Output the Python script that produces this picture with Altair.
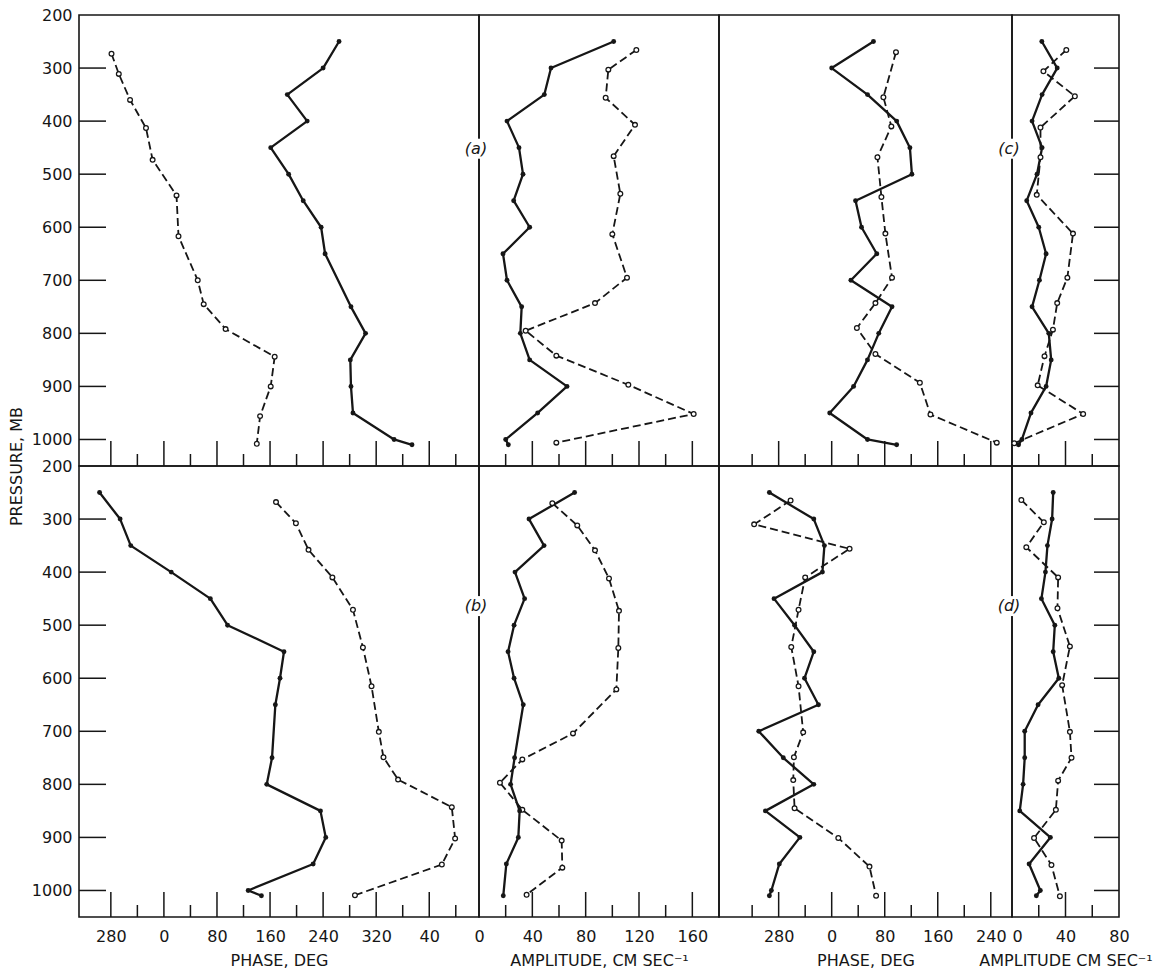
import altair as alt
import pandas as pd

# ---------------- data ----------------
# Pressure levels in mb. Phase values are in degrees written continuously
# (a value above 360 is the next turn, e.g. 400 is drawn as 40 deg).

# (a) phase
a_ph_solid_p = [250, 300, 350, 400, 450, 500, 550, 600, 650, 750, 800, 850, 900, 950, 1000, 1010]
a_ph_solid_v = [624, 600, 546, 576, 521, 548, 570, 597, 603, 642, 664, 641, 642, 645, 707, 734]
a_ph_dash_p = [273, 311, 360, 413, 473, 540, 617, 700, 745, 792, 844, 900, 956, 1008]
a_ph_dash_v = [281, 292, 309, 333, 343, 379, 382, 411, 420, 453, 527, 521, 505, 500]
# (a) amplitude
a_amp_solid_p = [250, 300, 350, 400, 450, 500, 550, 600, 650, 700, 750, 800, 850, 900, 950, 1000, 1010]
a_amp_solid_v = [101, 54, 49, 21, 30, 33, 26, 38, 18, 21, 32, 31, 38, 66, 44, 20, 22]
a_amp_dash_p = [266, 303, 356, 407, 466, 537, 613, 695, 743, 795, 842, 897, 952, 1006]
a_amp_dash_v = [118, 97, 95, 117, 101, 106, 100, 111, 87, 35, 58, 112, 161, 58]
# (c) phase
c_ph_solid_p = [250, 300, 350, 400, 450, 500, 550, 600, 650, 700, 750, 800, 850, 900, 950, 1000, 1010]
c_ph_solid_v = [423, 360, 414, 458, 478, 481, 396, 405, 428, 389, 451, 431, 414, 393, 357, 414, 458]
c_ph_dash_p = [270, 355, 410, 468, 543, 612, 695, 743, 790, 839, 893, 953, 1006]
c_ph_dash_v = [457, 438, 450, 429, 435, 441, 451, 426, 398, 426, 493, 509, 609]
# (c) amplitude
c_amp_solid_p = [250, 300, 350, 400, 450, 500, 550, 600, 650, 700, 750, 800, 850, 900, 950, 1000, 1010]
c_amp_solid_v = [22.3, 33.8, 22.5, 15, 22.5, 18.7, 11, 20, 25.5, 20.5, 15, 27.5, 29.3, 25.5, 14.2, 7.4, 4.9]
c_amp_dash_p = [266, 306, 353, 412, 468, 539, 612, 695, 743, 793, 843, 898, 952, 1007]
c_amp_dash_v = [40.6, 23.5, 47, 21.3, 21.3, 18.5, 45.6, 41.4, 33.8, 30.6, 24.3, 19.2, 53.2, 1.7]

# (b) phase
b_ph_solid_p = [250, 300, 350, 400, 450, 500, 550, 600, 650, 750, 800, 850, 900, 950, 1000, 1010]
b_ph_solid_v = [263, 294, 310, 371, 430, 456, 541, 535, 528, 523, 515, 596, 604, 585, 487, 507]
b_ph_dash_p = [268, 308, 358, 410, 471, 542, 615, 701, 749, 791, 843, 902, 951, 1009]
b_ph_dash_v = [529, 559, 578, 614, 645, 660, 673, 684, 691, 713, 794, 799, 779, 648]
# (b) amplitude
b_amp_solid_p = [250, 300, 350, 400, 450, 500, 550, 600, 650, 750, 800, 850, 900, 950, 1010]
b_amp_solid_v = [71.7, 37.5, 48.8, 27, 34.2, 26.3, 21.8, 26.3, 33.2, 26.7, 23.7, 30.5, 29.5, 20.5, 18.2]
b_amp_dash_p = [270, 312, 359, 412, 473, 543, 621, 704, 753, 797, 848, 906, 957, 1008]
b_amp_dash_v = [55, 73.7, 87, 97.5, 105, 104.5, 103, 70.5, 32.5, 15.7, 32.5, 62, 62.5, 35.7]
# (d) phase
d_ph_solid_p = [250, 300, 350, 400, 450, 500, 550, 600, 650, 700, 750, 800, 850, 900, 950, 1000, 1010]
d_ph_solid_v = [266, 333, 349, 346, 273, 304, 333, 319, 340, 250, 287, 333, 260, 312, 281, 269, 266]
d_ph_dash_p = [265, 310, 356, 410, 471, 541, 615, 702, 749, 792, 845, 901, 955, 1010]
d_ph_dash_v = [298, 243, 387, 320, 310, 299, 310, 317, 303, 302, 304, 370, 417, 427]
# (d) amplitude
d_amp_solid_p = [250, 300, 350, 400, 450, 500, 550, 600, 650, 700, 750, 800, 850, 900, 950, 1000, 1010]
d_amp_solid_v = [30.8, 30, 26.5, 25, 22, 32, 30.8, 35, 19.5, 9.5, 9.5, 8.3, 5.8, 28.7, 12.8, 21.2, 18.2]
d_amp_dash_p = [264, 306, 353, 410, 468, 540, 613, 701, 750, 793, 848, 901, 952, 1011]
d_amp_dash_v = [7, 23.8, 10.7, 34.5, 34, 43.3, 37.5, 43.3, 44.5, 34.5, 32.8, 16.5, 29.5, 35.8]

# axis ticks / labels
pressure_labels = [200, 300, 400, 500, 600, 700, 800, 900, 1000]
pressure_ticks = [300, 400, 500, 600, 700, 800, 900, 1000]
p1_long = [280, 360, 440, 520, 600, 680, 760]
p1_short = [320, 400, 480, 560, 640, 720, 800]
p2_long = [40, 80, 120, 160]
p2_short = [20, 60, 100, 140]
p2_labels = [0, 40, 80, 120, 160]
p3_long = [280, 360, 440, 520, 600]
p3_short = [240, 320, 400, 480, 560]
p4_long = [40]
p4_short = [20, 60]
p4_labels = [0, 40, 80]
tags = ["(a)", "(b)", "(c)", "(d)"]

# ---------------- styling / layout ----------------
INK = "#161616"
FONT = "DejaVu Sans"
H = 451
W1, W2, W3, W4 = 400, 240, 293, 107
P1_DOM = [232, 835]
P2_DOM = [0, 180]
P3_DOM = [190, 632]
P4_DOM = [0, 80]
Y_DOM = [200, 1050]


def x_axis(values, title, phase, zero_left=False):
    kw = dict(values=values, ticks=False, domain=False, grid=False, tickSize=0,
              labelPadding=11, labelFlush=False, labelOverlap=False,
              labelFont=FONT, labelFontSize=16, labelColor=INK,
              title=title, titleFont=FONT, titleFontSize=16,
              titleFontWeight="normal", titleColor=INK, titlePadding=8)
    if phase:
        kw["labelExpr"] = "datum.value % 360"
    else:
        kw["format"] = "d"
    if zero_left:
        kw["labelAlign"] = {"expr": "datum.value == 0 ? 'left' : 'center'"}
    return alt.Axis(**kw)


def y_axis(with_title):
    kw = dict(values=pressure_labels, format="d", ticks=False, domain=False,
              grid=False, tickSize=0, labelPadding=7, labelFlush=False,
              labelOverlap=False, labelFont=FONT, labelFontSize=16, labelColor=INK)
    if with_title:
        kw.update(title="PRESSURE, MB", titleFont=FONT, titleFontSize=16,
                  titleFontWeight="normal", titleColor=INK, titleX=-63,
                  titleY=H, titleAngle=270, titleAlign="center",
                  titleBaseline="middle")
    else:
        kw["title"] = None
    return alt.Axis(**kw)


def panel(width, xdom, sp, sv, dp, dv, long_t, short_t, xax, yax,
          ytick_side=None, tag=None, tag_p=455):
    X = alt.X("v:Q", scale=alt.Scale(domain=xdom, nice=False, zero=False), axis=xax)
    Y = alt.Y("p:Q", scale=alt.Scale(domain=Y_DOM, reverse=True, nice=False, zero=False), axis=yax)
    solid = pd.DataFrame({"p": sp, "v": sv})
    dashed = pd.DataFrame({"p": dp, "v": dv})
    layers = [
        alt.Chart(pd.DataFrame({"v": long_t})).mark_rule(color=INK, strokeWidth=1.5)
        .encode(x=X, y=alt.value(H), y2=alt.value(H - 25)),
        alt.Chart(pd.DataFrame({"v": short_t})).mark_rule(color=INK, strokeWidth=1.5)
        .encode(x=X, y=alt.value(H), y2=alt.value(H - 12)),
    ]
    if ytick_side == "left":
        layers.append(alt.Chart(pd.DataFrame({"p": pressure_ticks})).mark_rule(color=INK, strokeWidth=1.5)
                      .encode(y=Y, x=alt.value(0), x2=alt.value(27)))
    if ytick_side == "right":
        layers.append(alt.Chart(pd.DataFrame({"p": pressure_ticks})).mark_rule(color=INK, strokeWidth=1.5)
                      .encode(y=Y, x=alt.value(width - 25), x2=alt.value(width)))
    layers += [
        alt.Chart(dashed).mark_line(color=INK, strokeWidth=1.8, strokeDash=[8, 4])
        .encode(x=X, y=Y, order="p:Q"),
        alt.Chart(solid).mark_line(color=INK, strokeWidth=2.3, strokeJoin="round")
        .encode(x=X, y=Y, order="p:Q"),
        alt.Chart(dashed).mark_point(shape="circle", filled=True, fill="white", stroke=INK,
                                     strokeWidth=1.3, size=22, opacity=1)
        .encode(x=X, y=Y),
        alt.Chart(solid).mark_point(shape="circle", filled=True, color=INK, size=24, opacity=1)
        .encode(x=X, y=Y),
    ]
    if tag is not None:
        tdf = pd.DataFrame({"v": [0], "p": [tag_p], "t": [tag]})
        layers.append(alt.Chart(tdf).mark_rect(color="white", xOffset=-16, x2Offset=10,
                                               yOffset=-10, y2Offset=10)
                      .encode(x=X, x2=alt.X2("v"), y=Y, y2=alt.Y2("p")))
        layers.append(alt.Chart(tdf).mark_text(font=FONT, fontSize=16, fontStyle="italic",
                                               color=INK, dx=-3, align="center",
                                               baseline="middle")
                      .encode(x=X, y=Y, text="t:N"))
    return alt.layer(*layers).properties(width=width, height=H)


panels = [
    # top row
    panel(W1, P1_DOM, a_ph_solid_p, a_ph_solid_v, a_ph_dash_p, a_ph_dash_v,
          p1_long, p1_short, None, y_axis(True), ytick_side="left"),
    panel(W2, P2_DOM, a_amp_solid_p, a_amp_solid_v, a_amp_dash_p, a_amp_dash_v,
          p2_long, p2_short, None, None, tag=tags[0], tag_p=452),
    panel(W3, P3_DOM, c_ph_solid_p, c_ph_solid_v, c_ph_dash_p, c_ph_dash_v,
          p3_long, p3_short, None, None),
    panel(W4, P4_DOM, c_amp_solid_p, c_amp_solid_v, c_amp_dash_p, c_amp_dash_v,
          p4_long, p4_short, None, None, ytick_side="right", tag=tags[2], tag_p=452),
    # bottom row
    panel(W1, P1_DOM, b_ph_solid_p, b_ph_solid_v, b_ph_dash_p, b_ph_dash_v,
          p1_long, p1_short, x_axis(p1_long, "PHASE, DEG", True), y_axis(False),
          ytick_side="left"),
    panel(W2, P2_DOM, b_amp_solid_p, b_amp_solid_v, b_amp_dash_p, b_amp_dash_v,
          p2_long, p2_short, x_axis(p2_labels, "AMPLITUDE, CM SEC⁻¹", False), None,
          tag=tags[1], tag_p=464),
    panel(W3, P3_DOM, d_ph_solid_p, d_ph_solid_v, d_ph_dash_p, d_ph_dash_v,
          p3_long, p3_short, x_axis(p3_long, "PHASE, DEG", True), None),
    panel(W4, P4_DOM, d_amp_solid_p, d_amp_solid_v, d_amp_dash_p, d_amp_dash_v,
          p4_long, p4_short, x_axis(p4_labels, "AMPLITUDE CM SEC⁻¹", False, zero_left=True), None,
          ytick_side="right", tag=tags[3], tag_p=464),
]

chart = (
    alt.concat(*panels, columns=4, spacing=0, bounds="flush")
    .properties(background="white",
                padding={"left": 7, "top": 6, "right": 10, "bottom": 4})
    .configure_view(stroke=INK, strokeWidth=1.6)
)

chart.save("out.html", embed_options={"renderer": "svg", "actions": False})
